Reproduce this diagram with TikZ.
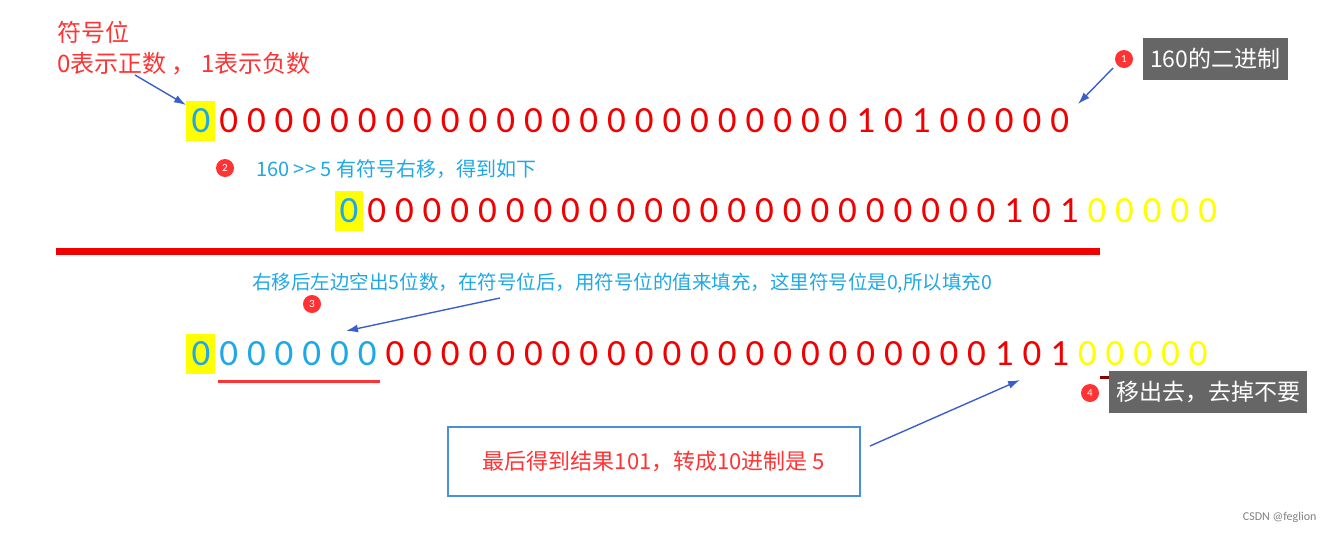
\documentclass[tikz,border=0pt]{standalone}
\usepackage{fontspec}
\setmainfont{Carlito}
\newfontfamily\cjk{Noto Sans CJK SC}
\usetikzlibrary{arrows.meta}
\definecolor{rd}{HTML}{F00000}
\definecolor{tx}{HTML}{FF3333}
\definecolor{bl}{HTML}{1FA8E6}
\definecolor{yl}{HTML}{FFFF00}
\definecolor{ar}{HTML}{3A5FCD}
\definecolor{gb}{HTML}{666666}
\definecolor{dr}{HTML}{8B0000}
\definecolor{bx}{HTML}{4A90D9}
\tikzset{
 dg/.style={inner sep=0pt,font=\fontsize{37}{37}\selectfont},
 num/.style={circle,fill=tx,text=white,inner sep=0pt,minimum size=18pt,font=\fontsize{11}{11}\selectfont},
 tip/.style={fill=gb,text=white,inner xsep=7pt,minimum height=42pt,font=\cjk\fontsize{23}{24}\selectfont},
 pt/.style={-{Latex[length=12pt,width=8pt]},ar,line width=1.4pt},
}
\begin{document}
\begin{tikzpicture}[x=1pt,y=-1pt]
\useasboundingbox (0,0) rectangle (1333,533);
% highlights
\fill[yl] (186,101) rectangle (215,141);
\fill[yl] (335,191) rectangle (363,231);
\fill[yl] (186,334) rectangle (215,374);
% row 1
\node[dg,text=bl] (r1s) at (201,121) {0};
\foreach \i in {1,...,23}{\node[dg,text=rd] at ({201+27.7*\i},121) {0};}
\foreach \d [count=\k from 24] in {1,0,1,0,0,0,0,0}{\node[dg,text=rd] at ({201+27.7*\k},121) {\d};}
% row 2
\node[dg,text=bl] (r2s) at (349,211) {0};
\foreach \i in {1,...,23}{\node[dg,text=rd] at ({349+27.7*\i},211) {0};}
\foreach \d [count=\k from 24] in {1,0,1}{\node[dg,text=rd] at ({349+27.7*\k},211) {\d};}
\foreach \i in {27,...,31}{\node[dg,text=yl] at ({349+27.7*\i},211) {0};}
% row 3
\node[dg,text=bl] (r3s) at (201,354) {0};
\foreach \i in {1,...,6}{\node[dg,text=bl] at ({201+27.7*\i},354) {0};}
\foreach \i in {7,...,28}{\node[dg,text=rd] at ({201+27.7*\i},354) {0};}
\foreach \d [count=\k from 29] in {1,0,1}{\node[dg,text=rd] at ({201+27.7*\k},354) {\d};}
\foreach \i in {32,...,36}{\node[dg,text=yl] at ({201+27.7*\i},354) {0};}
% labels
\node[anchor=west,text=tx,inner sep=0pt,font=\cjk\fontsize{24}{25}\selectfont] (sg) at (57,32) {符号位};
\node[anchor=west,text=tx,inner sep=0pt,font=\cjk\fontsize{24}{25}\selectfont] (sg2) at (57,64) {0表示正数 ， 1表示负数};
\coordinate (a1s) at (135,75); \coordinate (a1e) at (186,105);
\draw[pt] (a1s) -- (a1e);
\node[num] (n1) at (1124,59) {1};
\node[tip,anchor=west] (t1) at (1143,59) {160的二进制};
\coordinate (a2s) at (1113,68); \coordinate (a2e) at (1078,104);
\draw[pt] (a2s) -- (a2e);
\node[num] (n2) at (225,168) {2};
\node[anchor=west,text=bl,inner sep=0pt,font=\cjk\fontsize{20}{21}\selectfont] (t2) at (256,169) {160 >> 5 有符号右移，得到如下};
\draw[rd,line width=7pt] (56,251) -- (1100,251);
\node[anchor=west,text=bl,inner sep=0pt,font=\cjk\fontsize{19.5}{20}\selectfont] (t3) at (252,283) {右移后左边空出5位数，在符号位后，用符号位的值来填充，这里符号位是0,所以填充0};
\node[num] (n3) at (312,304) {3};
\coordinate (a3s) at (500,298); \coordinate (a3e) at (346,331);
\draw[pt] (a3s) -- (a3e);
\draw[tx,line width=3pt] (218,381) -- (380,381);
\draw[dr,line width=3pt] (1100,377) -- (1220,377);
\node[num] (n4) at (1090,393) {4};
\node[tip,anchor=west] (t4) at (1109,392) {移出去，去掉不要};
\node[draw=bx,line width=2pt,minimum width=412pt,minimum height=69pt,text=tx,font=\cjk\fontsize{22}{23}\selectfont] (res) at (654,461) {最后得到结果101，转成10进制是 5};
\coordinate (a4s) at (870,446); \coordinate (a4e) at (1020,380);
\draw[pt] (a4s) -- (a4e);
\node[anchor=east,text=gray,font=\fontsize{12}{13}\selectfont] (wm) at (1320,517) {CSDN @feglion};
\end{tikzpicture}
\end{document}
